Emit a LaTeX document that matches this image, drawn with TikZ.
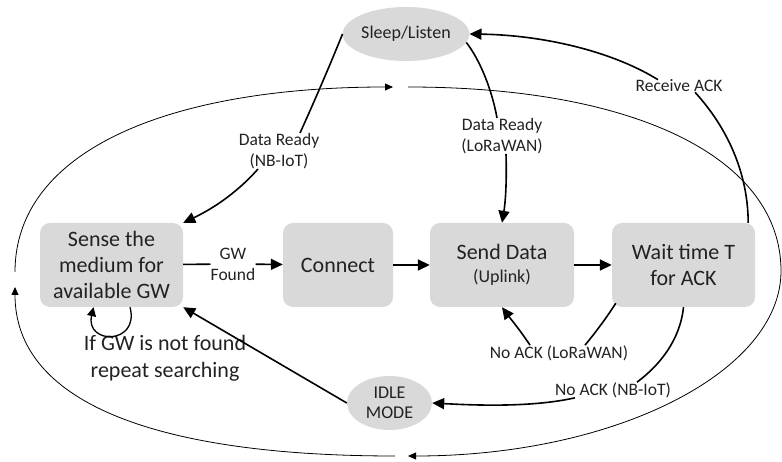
\documentclass[tikz,border=0pt]{standalone}
\usepackage{fontspec}
\setmainfont{Carlito}
\usetikzlibrary{arrows.meta,shapes.geometric}
\definecolor{stagegray}{HTML}{D9D9D9}
\definecolor{inkgray}{HTML}{222222}
\begin{document}
\begin{tikzpicture}[x=1pt, y=-1pt, text=inkgray,
  stage/.style={fill=stagegray, rounded corners=10pt, minimum height=84pt, inner sep=0pt, align=center, font=\fontsize{22}{26}\selectfont},
  blob/.style={ellipse, fill=stagegray, inner sep=0pt, minimum height=54pt, align=center, font=\fontsize{18}{20}\selectfont},
  lbl/.style={align=center, inner sep=0pt, font=\fontsize{17.5}{21}\selectfont},
  wire/.style={line width=1.6pt},
  link/.style={line width=1.6pt, -{Triangle[length=12pt,width=11pt]}},
  selfloop/.style={line width=1.3pt, -{Triangle[length=9pt,width=9pt]}},
  ring/.style={line width=0.8pt, -{Triangle[length=8pt,width=7pt]}}]
  \useasboundingbox (0,0) rectangle (782,462);
  % states
  \node [blob, minimum width=126pt] (sleep) at (406,34) {Sleep/Listen};
  \node [stage, minimum width=143pt] (sense) at (111.5,265) {Sense the\\medium for\\available GW};
  \node [stage, minimum width=110pt] (connect) at (338,265) {Connect};
  \node [stage, minimum width=144pt] (send) at (502,265) {Send Data\\[-3pt]{\fontsize{18}{20}\selectfont(Uplink)}};
  \node [stage, minimum width=143pt] (wait) at (683.5,265) {Wait time T\\for ACK};
  \node [blob, minimum width=85pt] (idle) at (389.5,403) {IDLE\\MODE};
  % labels
  \node [lbl] (drnb) at (279,151) {Data Ready\\(NB-IoT)};
  \node [lbl] (drlo) at (502,136) {Data Ready\\(LoRaWAN)};
  \node [lbl] (rack) at (679,86) {Receive ACK};
  \node [lbl] (found) at (233,264) {GW\\Found};
  \node [lbl] (nalo) at (559,353) {No ACK (LoRaWAN)};
  \node [lbl] (nanb) at (613,390) {No ACK (NB-IoT)};
  \node [align=center, inner sep=0pt, font=\fontsize{22}{27}\selectfont] (retry) at (165,358) {If GW is not found\\repeat searching};
  % outer cycle
  \coordinate (ringA) at (15,272);
  \coordinate (ringB) at (393,87);
  \coordinate (ringC) at (408,87);
  \coordinate (ringD) at (408,456);
  \coordinate (ringE) at (395,456);
  \coordinate (ringF) at (15,287);
  \draw [ring] (ringA) .. controls (15,150) and (170,87) .. (ringB);
  \draw [ring] (ringC) .. controls (640,87) and (781,160) .. (781,271)
    .. controls (781,372) and (615,456) .. (ringD);
  \draw [ring] (ringE) .. controls (150,456) and (15,400) .. (ringF);
  % transitions
  \draw [wire] (sense) -- (found);
  \draw [link] (found) -- (connect);
  \draw [link] (connect) -- (send);
  \draw [link] (send) -- (wait);
  \draw [wire] (sleep.west) .. controls (330,65) and (315,100) .. ([xshift=21pt]drnb.north);
  \draw [link] ([xshift=-21pt]drnb.south) .. controls (235,195) and (210,210) .. (sense.north east);
  \draw [wire] (sleep.-8) .. controls (480,60) and (492,90) .. ([xshift=-5pt]drlo.north);
  \draw [link] ([xshift=4pt]drlo.south) .. controls (507,185) and (505,205) .. (send.north);
  \draw [wire] ([xshift=-7pt]wait.north east) .. controls (748,170) and (725,125) .. ([xshift=16pt]rack.south);
  \draw [link] ([xshift=-21pt]rack.north) .. controls (610,50) and (540,35) .. (sleep.east);
  \draw [wire] ([xshift=4pt,yshift=4pt]wait.south west) .. controls (605,320) and (595,333) .. ([xshift=26pt]nalo.north);
  \draw [link] ([xshift=-29pt]nalo.north) .. controls (520,330) and (510,318) .. (send.south);
  \draw [wire] (wait.south) .. controls (680,340) and (660,365) .. ([xshift=24pt]nanb.north);
  \draw [link] ([xshift=-38pt]nanb.south) .. controls (530,408) and (470,405) .. (idle.east);
  \draw [link] (idle.west) -- (sense.south east);
  \draw [selfloop] ([xshift=18.5pt]sense.south) .. controls (140,345) and (85,345) .. ([xshift=-18pt]sense.south);
\end{tikzpicture}
\end{document}
